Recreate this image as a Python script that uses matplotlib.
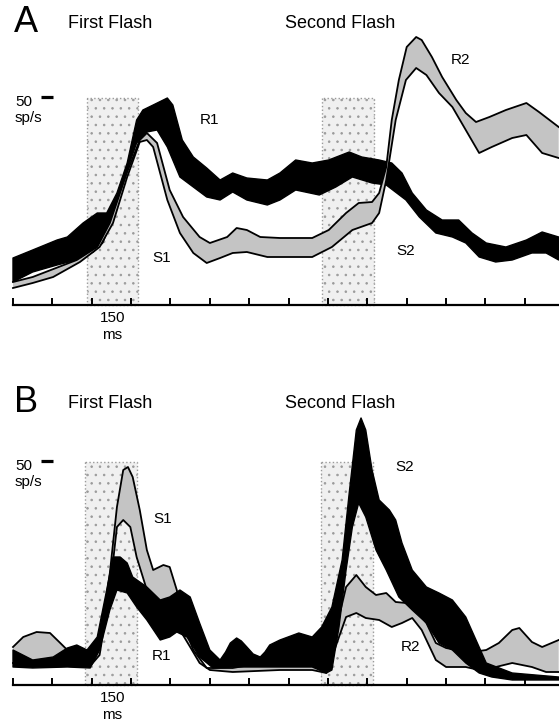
import numpy as np
import matplotlib.pyplot as plt

plt.rcParams['font.family'] = ['Liberation Sans', 'DejaVu Sans']
plt.rcParams['hatch.linewidth'] = 0.6

# time in ms, rate in sp/s (baseline = 0)
# ---------------- Panel A ----------------
a_black_up_t = [0, 25, 56, 69, 89, 107, 119, 132, 145, 157, 165, 178, 196, 203, 215, 229, 246, 263, 279, 297, 323, 339,
                359, 380, 401, 427, 443, 465, 481, 494, 507, 525, 545, 566, 583, 601, 626, 652, 672, 693]
a_black_up_r = [47, 55, 65, 68, 82, 92, 92, 112, 142, 185, 195, 200, 207, 200, 165, 148, 137, 125, 132, 127, 125, 132,
                145, 142, 145, 153, 148, 145, 142, 132, 112, 95, 85, 85, 72, 62, 58, 65, 73, 68]
a_black_lo_t = [0, 25, 56, 81, 102, 114, 127, 145, 157, 170, 183, 196, 212, 229, 246, 263, 279, 297, 323, 339,
                359, 389, 410, 431, 456, 474, 499, 516, 537, 558, 575, 592, 613, 634, 659, 677, 693]
a_black_lo_r = [23, 33, 40, 45, 53, 62, 88, 135, 162, 173, 175, 158, 128, 118, 108, 105, 113, 105, 100, 105,
                115, 110, 118, 128, 122, 120, 105, 88, 72, 68, 62, 48, 43, 45, 52, 52, 45]
a_gray_up_t = [0, 25, 81, 107, 123, 145, 161, 170, 183, 199, 216, 237, 250, 272, 284, 297, 314, 339, 380, 401, 423,
               439, 456, 465, 474, 481, 490, 500, 512, 519, 532, 545, 563, 575, 588, 605, 626, 652, 668, 693]
a_gray_up_r = [23, 28, 45, 58, 82, 133, 165, 172, 162, 115, 88, 68, 62, 68, 77, 75, 68, 67, 67, 75, 92,
               102, 103, 112, 138, 185, 225, 258, 268, 265, 248, 228, 205, 192, 183, 188, 195, 202, 193, 178]
a_gray_lo_t = [0, 25, 51, 85, 110, 127, 145, 161, 170, 178, 196, 212, 229, 246, 263, 279, 297, 323, 339, 380, 405,
               431, 456, 465, 474, 486, 499, 512, 525, 541, 558, 575, 592, 608, 634, 652, 672, 693]
a_gray_lo_r = [17, 22, 28, 43, 58, 82, 128, 163, 165, 158, 105, 72, 52, 42, 47, 52, 53, 48, 48, 48, 58,
               75, 82, 92, 125, 185, 225, 237, 230, 212, 198, 175, 152, 158, 167, 170, 152, 147]

# ---------------- Panel B ----------------
b_black_up_t = [0, 25, 51, 69, 81, 94, 107, 119, 127, 136, 145, 152, 170, 187, 199, 212, 225, 237, 250, 263, 270, 276,
                284, 290, 297, 305, 314, 320, 326, 339, 363, 380, 392, 405, 418, 427, 436, 442, 448, 456, 465,
                478, 486, 494, 507, 525, 541, 558, 575, 588, 601, 634, 693]
b_black_up_r = [35, 25, 28, 37, 40, 35, 48, 95, 128, 128, 122, 108, 98, 85, 88, 95, 88, 62, 35, 25, 33, 42,
                47, 44, 38, 31, 28, 33, 40, 45, 52, 48, 58, 78, 125, 192, 255, 267, 255, 215, 185,
                175, 165, 142, 115, 98, 92, 85, 68, 45, 22, 12, 8]
b_black_lo_t = [0, 25, 69, 98, 110, 123, 132, 145, 157, 170, 187, 199, 208, 221, 237, 254, 279, 339, 380, 398, 405,
                414, 423, 431, 439, 448, 461, 474, 490, 507, 525, 541, 558, 575, 592, 608, 634, 693]
b_black_lo_r = [18, 17, 18, 17, 35, 75, 95, 92, 78, 65, 45, 48, 53, 48, 28, 17, 18, 18, 18, 12, 15,
                58, 115, 158, 182, 168, 135, 115, 88, 75, 62, 42, 35, 22, 12, 8, 5, 5]
b_gray_up_t = [0, 13, 30, 47, 60, 69, 85, 98, 110, 123, 132, 140, 146, 152, 161, 170, 178, 191, 199, 208, 216, 229,
               246, 279, 338, 372, 392, 403, 414, 423, 436, 448, 461, 474, 486, 499, 512, 525, 537, 550, 563,
               583, 601, 617, 634, 643, 659, 672, 693]
b_gray_up_r = [38, 48, 53, 52, 42, 35, 32, 22, 42, 112, 178, 215, 218, 208, 175, 135, 115, 120, 118, 95, 62, 35,
               17, 17, 25, 25, 18, 25, 68, 98, 110, 98, 90, 92, 83, 82, 75, 62, 42, 37, 35,
               33, 35, 42, 55, 57, 43, 38, 45]
b_gray_lo_t = [0, 25, 43, 69, 98, 110, 123, 132, 140, 149, 157, 170, 187, 199, 212, 225, 237, 250, 279, 339, 380,
               398, 414, 423, 436, 448, 465, 481, 494, 507, 519, 537, 550, 575, 592, 608, 634, 659, 677, 693]
b_gray_lo_r = [22, 22, 25, 23, 19, 30, 95, 158, 165, 158, 128, 95, 75, 68, 55, 38, 22, 15, 13, 15, 15,
               12, 48, 68, 72, 67, 65, 58, 62, 67, 55, 25, 18, 18, 15, 17, 22, 18, 13, 13]

# flash windows (ms) and their heights
a_flashes = [(94, 159), (392, 458)]
b_flashes = [(91, 157), (391, 457)]
a_flash_top = 207
b_flash_top = 223
ticks = np.arange(0, 651, 50)

GRAY = '#c4c4c4'

fig = plt.figure(figsize=(5.59, 7.22), dpi=100)
axA = fig.add_axes([0, 1 - 360 / 722, 1, 360 / 722])
axB = fig.add_axes([0, 0, 1, 342 / 722])
axA.set_ylim(-55, 305)
axB.set_ylim(-37, 305)


def band(ax, tu, ru, tl, rl, black, z):
    xs = np.concatenate([tu, tl[::-1]])
    ys = np.concatenate([ru, rl[::-1]])
    if black:
        ax.fill(xs, ys, facecolor='black', edgecolor='black', lw=1, joinstyle='round', zorder=z)
    else:
        ax.fill(xs, ys, facecolor=GRAY, edgecolor='none', zorder=z)
        ax.plot(tu, ru, color='black', lw=1.3, solid_joinstyle='round', zorder=z + 0.1)
        ax.plot(tl, rl, color='black', lw=1.3, solid_joinstyle='round', zorder=z + 0.1)


def setup(ax, flashes, top, letter, labels, ybar):
    ax.set_xlim(-16.5, 693.4)
    for s in ['top', 'right', 'left']:
        ax.spines[s].set_visible(False)
    ax.spines['bottom'].set_position(('data', 0))
    ax.spines['bottom'].set_bounds(0, 700)
    ax.spines['bottom'].set_linewidth(1.6)
    ax.set_xticks(ticks)
    ax.set_yticks([])
    ax.tick_params(axis='x', direction='in', length=5, width=1.4, labelbottom=False)
    for t0, t1 in flashes:
        ax.fill_between([t0, t1], 0, top, facecolor='#f0f0f0', edgecolor='#9a9a9a',
                        hatch='..', linestyle=':', lw=1.0, zorder=1)
    ax.text(16.5, 282, letter, fontsize=26, ha='center', va='center')
    ax.text(70, 282, 'First Flash', fontsize=13, ha='left', va='center')
    ax.text(345, 281, 'Second Flash', fontsize=13, ha='left', va='center')
    ax.text(2.5, ybar - 5, '50', fontsize=11, ha='left', va='center')
    ax.text(2.5, ybar - 21, 'sp/s', fontsize=11, ha='left', va='center')
    ax.plot([36, 51], [ybar, ybar], color='black', lw=2.3, solid_capstyle='butt')
    ax.text(126, -13, '150', fontsize=11, ha='center', va='center')
    ax.text(126, -30, 'ms', fontsize=11, ha='center', va='center')
    for name, t, r in labels:
        ax.text(t, r, name, fontsize=11, ha='center', va='center', zorder=6)


setup(axA, a_flashes, a_flash_top, 'A',
      [('R1', 250, 185), ('S1', 189, 47), ('R2', 568, 245), ('S2', 499, 54)], 208)
band(axA, np.array(a_black_up_t), np.array(a_black_up_r), np.array(a_black_lo_t), np.array(a_black_lo_r), True, 2)
band(axA, np.array(a_gray_up_t), np.array(a_gray_up_r), np.array(a_gray_lo_t), np.array(a_gray_lo_r), False, 3)

setup(axB, b_flashes, b_flash_top, 'B',
      [('S1', 190, 166), ('S2', 498, 218), ('R1', 189, 29), ('R2', 505, 38)], 224)
band(axB, np.array(b_gray_up_t), np.array(b_gray_up_r), np.array(b_gray_lo_t), np.array(b_gray_lo_r), False, 2)
band(axB, np.array(b_black_up_t), np.array(b_black_up_r), np.array(b_black_lo_t), np.array(b_black_lo_r), True, 3)

fig.savefig('out.png', dpi=100)
